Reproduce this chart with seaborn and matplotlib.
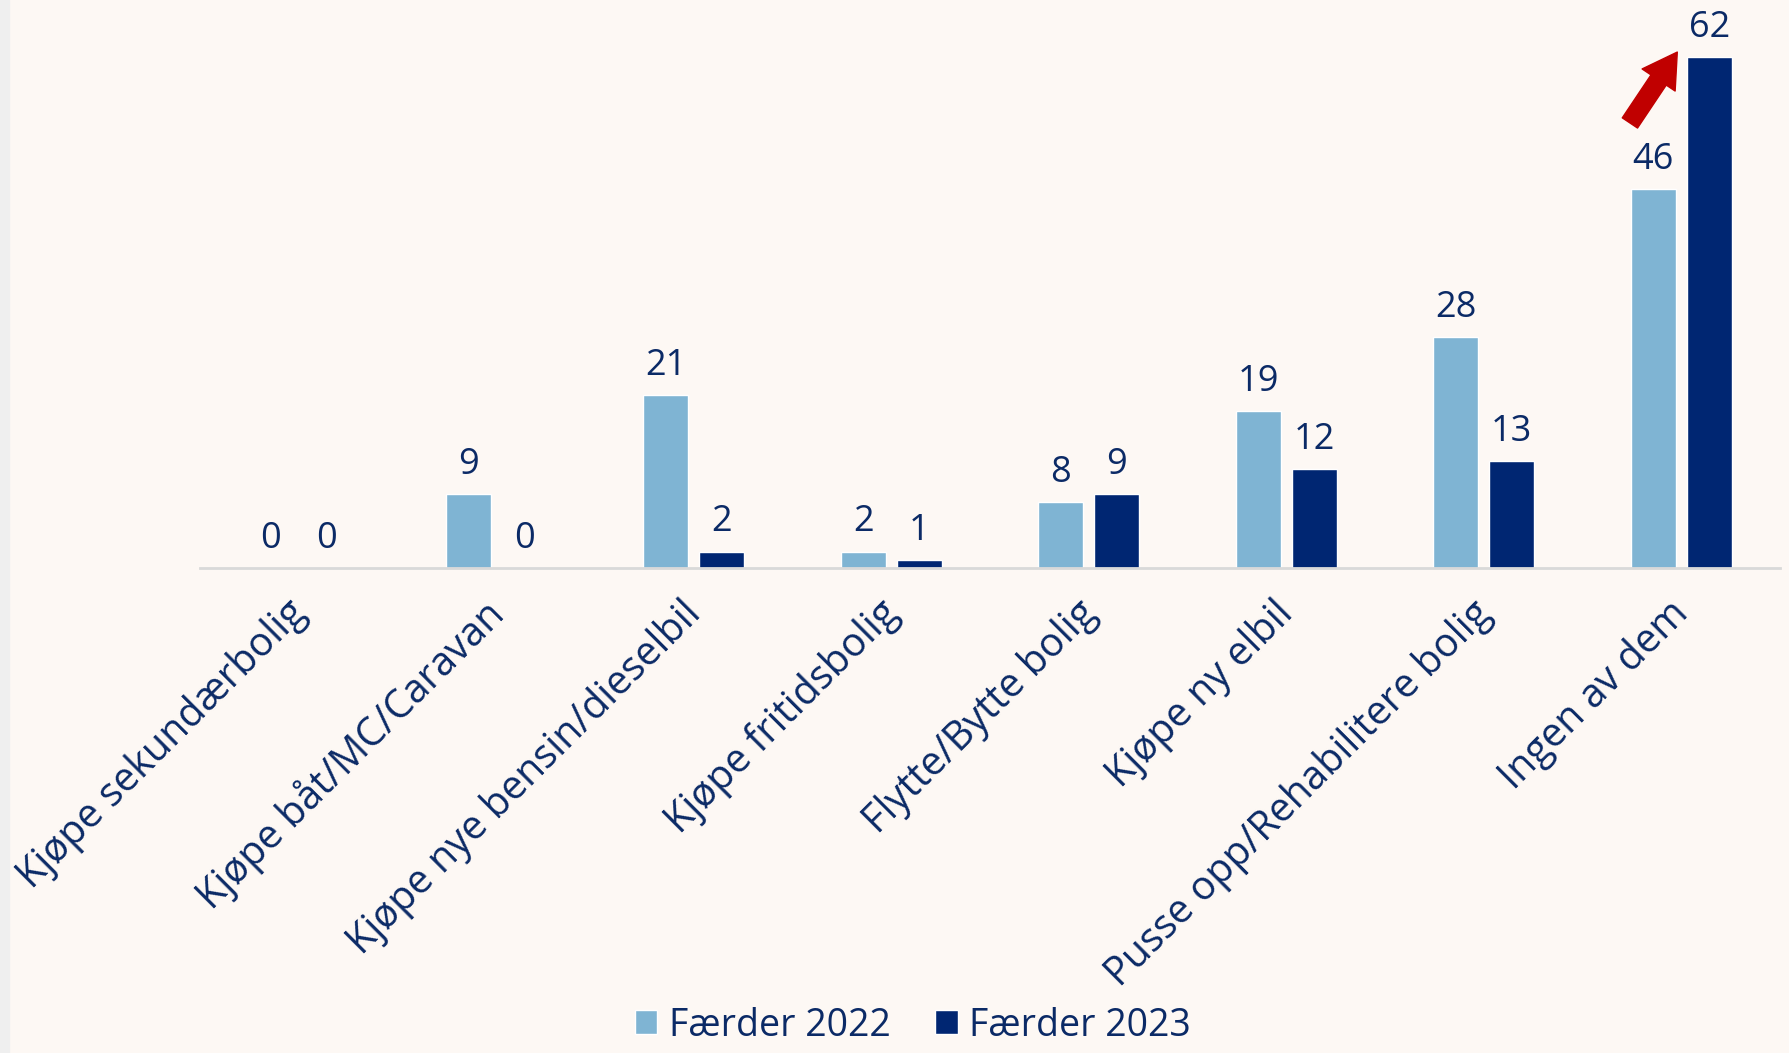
import matplotlib
matplotlib.use("Agg")
import matplotlib.pyplot as plt
import matplotlib.transforms as mtransforms
import seaborn as sns
import pandas as pd

# data
kategorier = ["Kjøpe sekundærbolig", "Kjøpe båt/MC/Caravan", "Kjøpe nye bensin/dieselbil",
              "Kjøpe fritidsbolig", "Flytte/Bytte bolig", "Kjøpe ny elbil",
              "Pusse opp/Rehabilitere bolig", "Ingen av dem"]
faerder_2022 = [0, 9, 21, 2, 8, 19, 28, 46]
faerder_2023 = [0, 0, 2, 1, 9, 12, 13, 62]
serier = ["Færder 2022", "Færder 2023"]
farger = ["#7FB4D3", "#002672"]
tekstfarge = "#0B2A66"

df = pd.DataFrame({
    "kategori": kategorier * 2,
    "verdi": faerder_2022 + faerder_2023,
    "serie": [serier[0]] * len(kategorier) + [serier[1]] * len(kategorier),
})

sns.set_style("white")
plt.rcParams["font.family"] = ["Open Sans", "DejaVu Sans"]

fig = plt.figure(figsize=(17.9, 10.53), dpi=100, facecolor="#FDF8F4")
# light grey strip on the left edge
fig.patches.append(plt.Rectangle((0, 0), 9 / 1790, 1, transform=fig.transFigure,
                                 color="#EFEFEF", zorder=0))
ax = fig.add_axes([200 / 1790, 1 - 568 / 1053, 1580 / 1790, 511 / 1053])
ax.set_facecolor("#FDF8F4")

sns.barplot(data=df, x="kategori", y="verdi", hue="serie", palette=farger,
            width=0.567, gap=0.2, ax=ax, saturation=1, legend=True)

for c in ax.containers:
    ax.bar_label(c, labels=[str(int(v)) for v in c.datavalues], padding=8,
                 fontsize=26, color=tekstfarge)

ax.set_ylim(0, 62)
ax.set_xlim(-0.5, len(kategorier) - 0.5)
ax.set_yticks([])
ax.set_xlabel("")
ax.set_ylabel("")
for s in ["left", "right", "top"]:
    ax.spines[s].set_visible(False)
ax.spines["bottom"].set_color("#D9D9D9")
ax.spines["bottom"].set_linewidth(2)
ax.tick_params(axis="x", length=0, pad=18)
ax.set_xticks(range(len(kategorier)))
ax.set_xticklabels(kategorier, rotation=45, ha="right", rotation_mode="anchor",
                   fontsize=28.5, color=tekstfarge)
skift = mtransforms.ScaledTranslation(-0.13, 0, fig.dpi_scale_trans)
for t in ax.get_xticklabels():
    t.set_transform(t.get_transform() + skift)

# red arrow marking the increase
ax.annotate("", xy=(7 - 0.02, 62.6), xytext=(7 - 0.26, 54.0),
            arrowprops=dict(arrowstyle="simple,head_length=1.1,head_width=1.3,tail_width=0.6",
                            color="#C00000", mutation_scale=22, shrinkA=0, shrinkB=0),
            annotation_clip=False)

ax.get_legend().remove()
h, l = ax.get_legend_handles_labels()
fig.legend(h, l, loc="lower center", bbox_to_anchor=(0.51, -0.024), ncol=2, frameon=False,
           fontsize=27, labelcolor=tekstfarge, handlelength=0.6, handleheight=0.6,
           handletextpad=0.3, columnspacing=1.2)

fig.savefig("out.png", dpi=100, facecolor=fig.get_facecolor())
